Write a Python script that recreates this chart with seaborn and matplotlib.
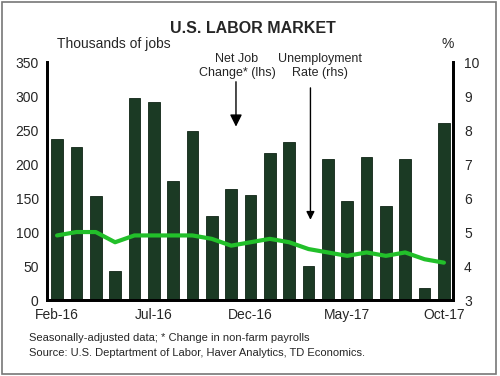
import seaborn as sns
import matplotlib.pyplot as plt
import pandas as pd
from matplotlib.patches import Rectangle

# Monthly data, Feb-16 to Oct-17
months = ['Feb-16', 'Mar-16', 'Apr-16', 'May-16', 'Jun-16', 'Jul-16', 'Aug-16',
          'Sep-16', 'Oct-16', 'Nov-16', 'Dec-16', 'Jan-17', 'Feb-17', 'Mar-17',
          'Apr-17', 'May-17', 'Jun-17', 'Jul-17', 'Aug-17', 'Sep-17', 'Oct-17']
job_change = [237, 225, 153, 43, 297, 291, 175, 249, 124, 164, 155, 216,
              232, 50, 207, 145, 210, 138, 208, 18, 261]
unemp_rate = [4.9, 5.0, 5.0, 4.7, 4.9, 4.9, 4.9, 4.9, 4.8, 4.6, 4.7, 4.8,
              4.7, 4.5, 4.4, 4.3, 4.4, 4.3, 4.4, 4.2, 4.1]
shown_ticks = ['Feb-16', 'Jul-16', 'Dec-16', 'May-17', 'Oct-17']

df = pd.DataFrame({'Month': months, 'Jobs': job_change, 'Rate': unemp_rate,
                   'pos': range(len(months))})

sns.set_style('white')
plt.rcParams['font.family'] = ['Liberation Sans', 'DejaVu Sans']

fig = plt.figure(figsize=(5, 3.76), dpi=100)
ax = fig.add_axes([0.094, 0.202, 0.812, 0.633])

sns.barplot(data=df, x='Month', y='Jobs', color='#1b3a24', saturation=1,
            width=0.6, edgecolor='#0f2415', linewidth=0.6, ax=ax)
ax.set_xlim(-0.52, len(months) - 0.53)
ax.set_ylim(0, 350)
ax.set_yticks(range(0, 351, 50))
ax.set_xticks([months.index(m) for m in shown_ticks])
ax.set_xticklabels(shown_ticks)
ax.set_xlabel('')
ax.set_ylabel('')
ax.tick_params(axis='both', length=0, labelsize=10, pad=6)

ax2 = ax.twinx()
sns.lineplot(data=df, x='pos', y='Rate', color='#22c02a', linewidth=3, ax=ax2)
ax2.set_ylim(3, 10)
ax2.set_yticks(range(3, 11))
ax2.set_ylabel('')
ax2.tick_params(axis='y', length=0, labelsize=10, pad=8)

for a in (ax, ax2):
    a.spines['top'].set_visible(False)
    for s in ['left', 'right', 'bottom']:
        a.spines[s].set_linewidth(2)
        a.spines[s].set_color('black')

fig.text(0.506, 0.925, 'U.S. LABOR MARKET', ha='center', va='center',
         fontsize=11.5, fontweight='bold')
fig.text(0.114, 0.882, 'Thousands of jobs', ha='left', va='center', fontsize=10)
fig.text(0.882, 0.882, '%', ha='left', va='center', fontsize=10)

# annotations
ax.text(9.3, 344, 'Net Job\nChange* (lhs)', ha='center', va='center', fontsize=9,
        clip_on=False)
ax.annotate('', xy=(9.25, 255), xytext=(9.25, 321),
            arrowprops=dict(arrowstyle='-|>', color='black', lw=1,
                            mutation_scale=18, shrinkA=0, shrinkB=0))
ax.text(13.6, 344, 'Unemployment\nRate (rhs)', ha='center', va='center', fontsize=9,
        clip_on=False)
ax.annotate('', xy=(13.1, 118), xytext=(13.1, 312),
            arrowprops=dict(arrowstyle='-|>', color='black', lw=1,
                            mutation_scale=12, shrinkA=0, shrinkB=0))

fig.text(0.058, 0.101, 'Seasonally-adjusted data; * Change in non-farm payrolls',
         ha='left', va='center', fontsize=8)
fig.text(0.058, 0.061, 'Source: U.S. Deptartment of Labor, Haver Analytics, TD Economics.',
         ha='left', va='center', fontsize=8)

fig.patches.append(Rectangle((0.004, 0.006), 0.988, 0.988, transform=fig.transFigure,
                             fill=False, edgecolor='#777777', linewidth=1.2))

plt.savefig('out.png', dpi=100)
